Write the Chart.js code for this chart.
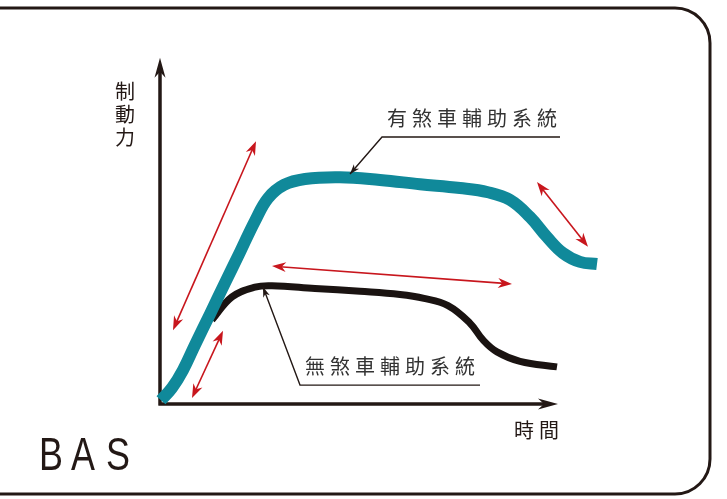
<!DOCTYPE html>
<html>
<head>
<meta charset="utf-8">
<script src="https://cdn.jsdelivr.net/npm/chart.js@4.4.0/dist/chart.umd.min.js"></script>
<style>
  html, body { margin: 0; padding: 0; background: #fff; }
  canvas { display: block; }
</style>
</head>
<body>
<canvas id="basChart" width="727" height="499"></canvas>
<script>
// braking force over time, arbitrary units (0-100)
const withBasTime  = [0.25, 3, 5.75, 8.75, 12.5, 16.25, 20, 23.75, 27, 31, 36.25, 45, 55, 65, 75, 82, 87.5, 92.5, 96.75, 100.75, 105, 109.25];
const withBasForce = [1.1, 4.6, 9.7, 16.9, 25.7, 34.6, 43.4, 52.3, 58.8, 62.6, 64.3, 64.8, 64, 62.8, 61.7, 60.5, 58.3, 53.4, 47.7, 43.1, 40.6, 40];
const noBasTime  = [13, 18, 23.75, 28, 38.75, 50, 60, 66, 72, 77.5, 80.75, 84.25, 90, 99.25];
const noBasForce = [24, 30.6, 33.4, 33.8, 33, 32.2, 31.3, 30.2, 28.1, 23.1, 18.3, 14.9, 12.2, 10.6];

const seriesLabels = ['有煞車輔助系統', '無煞車輔助系統'];
const yTitle = '制動力';
const xTitle = '時間';
const badge = 'BAS';

// red double arrows [x1, y1, x2, y2] in chart units
const redArrows = [
  [3.25, 21.1, 24, 75.1],
  [28, 39.4, 88, 34.3],
  [8, 1.7, 15.75, 20.9],
  [94.25, 63.4, 107, 44.9]
];
// label leaders: tip on curve, elbow, line end
const leaders = [
  { tip: [47.5, 65.7], elbow: [55.5, 76.3], end: [100, 76.3] },
  { tip: [25.75, 33.4], elbow: [35, 5.4], end: [80, 5.4] }
];

const INK = '#231815';
const TEAL = '#10899a';
const RED = '#c8161d';
const CJK = '"Noto Sans CJK TC", "Noto Sans CJK SC", sans-serif';

function arrowHead(ctx, fx, fy, tx, ty, len, half, color) {
  const a = Math.atan2(ty - fy, tx - fx);
  ctx.save();
  ctx.translate(tx, ty);
  ctx.rotate(a);
  ctx.fillStyle = color;
  ctx.beginPath();
  ctx.moveTo(0, 0);
  ctx.lineTo(-len, -half);
  ctx.lineTo(-len * 0.7, 0);
  ctx.lineTo(-len, half);
  ctx.closePath();
  ctx.fill();
  ctx.restore();
}

const decor = {
  id: 'decor',
  beforeDatasetsDraw(chart) {
    const { ctx, scales: { x, y } } = chart;
    ctx.save();
    // frame, open on the left
    ctx.strokeStyle = INK;
    ctx.lineWidth = 3;
    const r = 35, top = 8, right = 710, bottom = 494;
    ctx.beginPath();
    ctx.moveTo(-5, top);
    ctx.lineTo(right - r, top);
    ctx.arcTo(right, top, right, top + r, r);
    ctx.lineTo(right, bottom - r);
    ctx.arcTo(right, bottom, right - r, bottom, r);
    ctx.lineTo(-5, bottom);
    ctx.stroke();

    // axes
    const ox = x.getPixelForValue(0), oy = y.getPixelForValue(0);
    const yTip = y.getPixelForValue(98.9), xTip = x.getPixelForValue(99.5);
    ctx.lineWidth = 3.5;
    ctx.beginPath();
    ctx.moveTo(ox, oy + 1.5);
    ctx.lineTo(ox, yTip + 12);
    ctx.moveTo(ox - 1.5, oy);
    ctx.lineTo(xTip - 12, oy);
    ctx.stroke();
    arrowHead(ctx, ox, oy, ox, yTip, 20, 5.5, INK);
    arrowHead(ctx, ox, oy, xTip, oy, 20, 5.5, INK);

    // axis titles
    ctx.fillStyle = INK;
    ctx.font = '20px ' + CJK;
    ctx.textAlign = 'center';
    ctx.textBaseline = 'middle';
    [...yTitle].forEach((ch, i) => ctx.fillText(ch, 125, 91 + i * 23));
    ctx.textAlign = 'left';
    ctx.letterSpacing = '5px';
    ctx.fillText(xTitle, 514, 430);

    // badge
    ctx.letterSpacing = '0px';
    ctx.font = '46px "Liberation Sans", Arial, sans-serif';
    ctx.textBaseline = 'alphabetic';
    ctx.textAlign = 'center';
    const xs = [51, 83, 118];
    [...badge].forEach((ch, i) => {
      ctx.save();
      ctx.translate(xs[i], 470);
      ctx.scale(0.78, 1);
      ctx.fillText(ch, 0, 0);
      ctx.restore();
    });
    ctx.restore();
  },
  afterDatasetsDraw(chart) {
    const { ctx, scales: { x, y } } = chart;
    ctx.save();
    // red double arrows
    ctx.strokeStyle = RED;
    ctx.lineWidth = 1.6;
    redArrows.forEach(([x1, y1, x2, y2]) => {
      const p1 = [x.getPixelForValue(x1), y.getPixelForValue(y1)];
      const p2 = [x.getPixelForValue(x2), y.getPixelForValue(y2)];
      const a = Math.atan2(p2[1] - p1[1], p2[0] - p1[0]);
      const d = 8;
      ctx.beginPath();
      ctx.moveTo(p1[0] + Math.cos(a) * d, p1[1] + Math.sin(a) * d);
      ctx.lineTo(p2[0] - Math.cos(a) * d, p2[1] - Math.sin(a) * d);
      ctx.stroke();
      arrowHead(ctx, p1[0], p1[1], p2[0], p2[1], 14, 5, RED);
      arrowHead(ctx, p2[0], p2[1], p1[0], p1[1], 14, 5, RED);
    });

    // leaders and labels
    ctx.strokeStyle = INK;
    ctx.lineWidth = 1.4;
    ctx.fillStyle = '#333';
    ctx.font = '20px ' + CJK;
    ctx.letterSpacing = '5px';
    ctx.textBaseline = 'alphabetic';
    leaders.forEach((l, i) => {
      const t = [x.getPixelForValue(l.tip[0]), y.getPixelForValue(l.tip[1])];
      const e = [x.getPixelForValue(l.elbow[0]), y.getPixelForValue(l.elbow[1])];
      const n = [x.getPixelForValue(l.end[0]), y.getPixelForValue(l.end[1])];
      ctx.beginPath();
      ctx.moveTo(n[0], n[1]);
      ctx.lineTo(e[0], e[1]);
      ctx.lineTo(t[0], t[1]);
      ctx.stroke();
      arrowHead(ctx, e[0], e[1], t[0], t[1], 10, 3.5, INK);
      ctx.fillText(seriesLabels[i], e[0] + 5, e[1] - 11);
    });
    ctx.restore();
  }
};

new Chart(document.getElementById('basChart'), {
  type: 'line',
  data: {
    datasets: [
      {
        label: seriesLabels[0],
        data: withBasTime.map((t, i) => ({ x: t, y: withBasForce[i] })),
        borderColor: TEAL,
        borderWidth: 12,
        borderCapStyle: 'butt',
        tension: 0.4,
        pointRadius: 0,
        clip: false
      },
      {
        label: seriesLabels[1],
        data: noBasTime.map((t, i) => ({ x: t, y: noBasForce[i] })),
        borderColor: '#1a1311',
        borderWidth: 7,
        borderCapStyle: 'butt',
        tension: 0.4,
        pointRadius: 0,
        clip: false
      }
    ]
  },
  options: {
    responsive: false,
    animation: false,
    layout: { padding: { left: 160, right: 127, top: 54, bottom: 95 } },
    plugins: { legend: { display: false }, tooltip: { enabled: false } },
    scales: {
      x: { type: 'linear', min: 0, max: 110, display: false },
      y: { type: 'linear', min: 0, max: 100, display: false }
    }
  },
  plugins: [decor]
});
</script>
</body>
</html>
